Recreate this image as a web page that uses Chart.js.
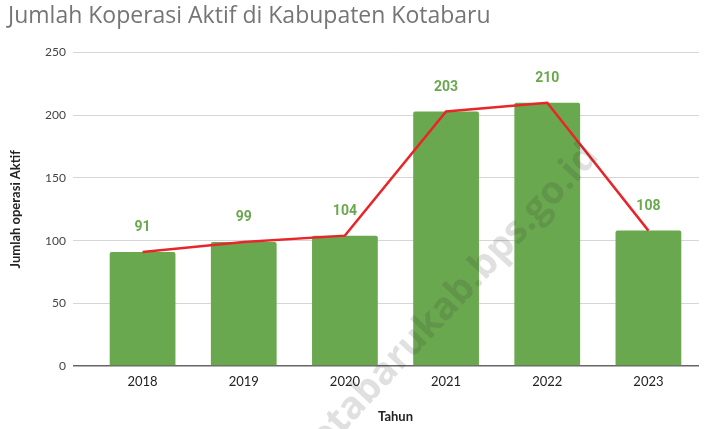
<!DOCTYPE html>
<html>
<head>
<meta charset="utf-8">
<script src="https://cdn.jsdelivr.net/npm/chart.js@4"></script>
<style>
html,body{margin:0;padding:0;background:#fff;}
#wrap{width:709px;height:429px;position:relative;}
</style>
</head>
<body>
<div id="wrap"><canvas id="c" width="709" height="429"></canvas></div>
<script>
const chartTitle = "Jumlah Koperasi Aktif di Kabupaten Kotabaru";
const years = ["2018", "2019", "2020", "2021", "2022", "2023"];
const koperasi = [91, 99, 104, 203, 210, 108];
const yTicks = [0, 50, 100, 150, 200, 250];
const xTitle = "Tahun";
const yTitle = "Jumlah operasi Aktif";
const watermark = "kotabarukab.bps.go.id";

const labelPlugin = {
  id: 'valueLabels',
  afterDatasetsDraw(chart) {
    const ctx = chart.ctx;
    const meta = chart.getDatasetMeta(1);
    ctx.save();
    ctx.font = 'bold 14px Roboto, "Open Sans", sans-serif';
    ctx.fillStyle = '#6aa84f';
    ctx.textAlign = 'center';
    ctx.textBaseline = 'middle';
    meta.data.forEach((bar, i) => {
      ctx.fillText(String(koperasi[i]), bar.x, bar.y - 24);
    });
    ctx.restore();
  }
};

const watermarkPlugin = {
  id: 'watermark',
  afterDraw(chart) {
    const ctx = chart.ctx;
    ctx.save();
    ctx.translate(592, 150);
    ctx.rotate(-47 * Math.PI / 180);
    ctx.font = 'bold 38px "Open Sans", Roboto, sans-serif';
    ctx.fillStyle = 'rgba(50,50,50,0.15)';
    ctx.textAlign = 'right';
    ctx.textBaseline = 'middle';
    ctx.fillText(watermark, 0, 0);
    ctx.restore();
  }
};

new Chart(document.getElementById('c'), {
  data: {
    labels: years,
    datasets: [
      {
        type: 'line',
        data: koperasi,
        borderColor: '#e8262a',
        borderWidth: 2.5,
        pointRadius: 0,
        tension: 0,
        order: 0
      },
      {
        type: 'bar',
        data: koperasi,
        backgroundColor: '#6aa84f',
        borderRadius: 2,
        borderSkipped: 'bottom',
        barPercentage: 0.65,
        categoryPercentage: 1.0,
        order: 1
      }
    ]
  },
  options: {
    responsive: false,
    animation: false,
    layout: { padding: { left: 8, right: 10, top: 0, bottom: 0 } },
    plugins: {
      legend: { display: false },
      tooltip: { enabled: false },
      title: {
        display: true,
        text: chartTitle,
        align: 'start',
        color: '#757575',
        font: { family: '"Open Sans", Lato, sans-serif', size: 23, weight: 'normal' },
        padding: { top: 3, bottom: 22 }
      }
    },
    scales: {
      x: {
        grid: { display: false, drawTicks: false },
        border: { display: false },
        ticks: { color: '#222', font: { family: 'Lato, "Open Sans", sans-serif', size: 13 }, padding: 8 },
        title: { display: true, text: xTitle, color: '#222', font: { family: 'Lato, "Open Sans", sans-serif', size: 13, weight: 'bold' }, padding: { top: 4, bottom: 4 } },
        afterFit(scale) { scale.height = 63; }
      },
      y: {
        min: 0,
        max: 250,
        afterBuildTicks(scale) { scale.ticks = yTicks.map(v => ({ value: v })); },
        grid: {
          color: ctx => (ctx.tick && ctx.tick.value === 0) ? '#666' : '#d6d6d6',
          lineWidth: ctx => (ctx.tick && ctx.tick.value === 0) ? 1.5 : 1,
          tickLength: 19
        },
        border: { display: false },
        ticks: { color: '#444', font: { family: 'Lato, "Open Sans", sans-serif', size: 12 }, padding: 7 },
        title: { display: true, text: yTitle, color: '#222', font: { family: 'Lato, "Open Sans", sans-serif', size: 13, weight: 'bold' }, padding: { top: 0, bottom: 4 } },
        afterFit(scale) { scale.width = 84; }
      }
    }
  },
  plugins: [labelPlugin, watermarkPlugin]
});
</script>
</body>
</html>
